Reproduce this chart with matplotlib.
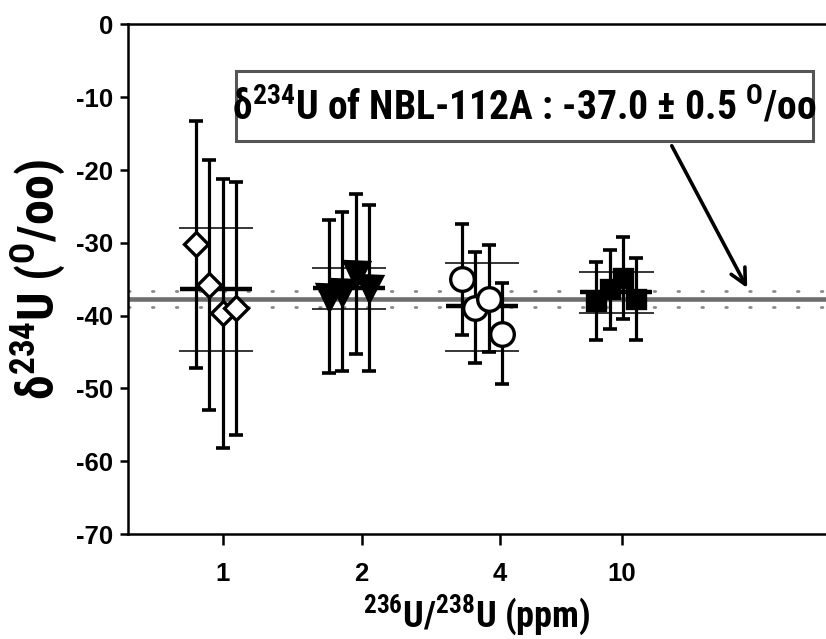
import numpy as np
import matplotlib
matplotlib.use("Agg")
import matplotlib.pyplot as plt
from matplotlib import font_manager
from matplotlib.patches import Rectangle

# 236U/238U spike levels (ppm) and measured delta-234U per run
categories = ["1", "2", "4", "10"]

d234_1ppm = [-30.2, -35.8, -39.7, -39.0]
err_1ppm = [17.0, 17.2, 18.5, 17.4]
d234_2ppm = [-37.4, -36.7, -34.3, -36.2]
err_2ppm = [10.5, 10.9, 11.0, 11.4]
d234_4ppm = [-35.0, -38.9, -37.7, -42.5]
err_4ppm = [7.65, 7.6, 7.35, 6.95]
d234_10ppm = [-38.0, -36.4, -34.8, -37.7]
err_10ppm = [5.35, 5.45, 5.6, 5.6]

# group mean and its +/- band
group_mean = [-36.4, -36.2, -38.7, -36.8]
group_hi = [-28.0, -33.5, -32.7, -34.0]
group_lo = [-44.8, -39.1, -44.8, -39.7]

# certified value line (as drawn) and dotted bounds
ref_value = -37.75
ref_hi = -36.6
ref_lo = -38.85

# narrow bold font if there is one, else plain Liberation Sans
names = {f.name for f in font_manager.fontManager.ttflist}
narrow = None
for cand in ["Liberation Sans Narrow", "Arial Narrow", "Roboto Condensed",
             "Open Sans Condensed", "DejaVu Sans Condensed", "Noto Sans Condensed"]:
    if cand in names:
        narrow = cand
        break
if narrow is None:
    narrow = "Liberation Sans"
    lab_scale = 0.86
else:
    lab_scale = 1.0

plt.rcParams["font.family"] = ["Liberation Sans", "DejaVu Sans"]
plt.rcParams["font.weight"] = "bold"
plt.rcParams["mathtext.default"] = "regular"
plt.rcParams["axes.unicode_minus"] = False

fig = plt.figure(figsize=(8.26, 6.39), dpi=100)
ax = fig.add_axes([0.155, 0.1643, 0.845, 0.7974])

tick_pos = [1.0, 2.0, 3.0, 3.88]
centers = [0.95, 1.91, 2.87, 3.84]
offsets = np.array([-0.145, -0.048, 0.048, 0.145])

ax.axhline(ref_value, color="#6e6e6e", lw=3.3, zorder=1)
for yv in (ref_hi, ref_lo):
    ax.axhline(yv, color="#8a8a8a", lw=2.0, ls=(0, (0.6, 8)),
               dash_capstyle="round", zorder=1)

groups = [
    (d234_1ppm, err_1ppm, "D", 12.5, "white"),
    (d234_2ppm, err_2ppm, "v", 18, "black"),
    (d234_4ppm, err_4ppm, "o", 17, "white"),
    (d234_10ppm, err_10ppm, "s", 13, "black"),
]

for i, (vals, errs, mk, ms, fc) in enumerate(groups):
    xs = centers[i] + offsets
    ax.hlines(group_mean[i], centers[i] - 0.26, centers[i] + 0.26,
              color="black", lw=3.2, zorder=2)
    ax.hlines([group_hi[i], group_lo[i]], centers[i] - 0.27, centers[i] + 0.27,
              color="black", lw=1.1, zorder=2)
    ax.errorbar(xs, vals, yerr=errs, fmt="none", ecolor="black",
                elinewidth=2.3, capsize=5, capthick=2.6, zorder=3)
    ax.plot(xs, vals, ls="none", marker=mk, ms=ms, mfc=fc, mec="black",
            mew=2.4, zorder=4)

ax.set_xlim(0.314, 5.354)
ax.set_ylim(-70, 0)
ax.set_yticks(np.arange(-70, 1, 10))
ax.set_xticks(tick_pos)
ax.set_xticklabels(categories)

for s in ("left", "bottom", "top"):
    ax.spines[s].set_linewidth(1.8)
ax.spines["right"].set_visible(False)
ax.tick_params(axis="y", direction="out", length=6, width=1.8,
               labelsize=18.5, pad=5)
ax.tick_params(axis="x", direction="out", length=8, width=1.8,
               labelsize=18.5, pad=12)

ax.set_ylabel(r"$\delta^{234}$U ($^{O}$/oo)", fontsize=33 * lab_scale + 3,
              fontfamily=narrow, fontweight="bold")
ax.yaxis.set_label_coords(-0.088, 0.5)
ax.set_xlabel(r"$^{236}$U/$^{238}$U (ppm)", fontsize=26 * lab_scale,
              fontfamily=narrow, fontweight="bold", labelpad=5)

# annotation box with arrow to the reference line
ax.add_patch(Rectangle((0.1547, 0.7713), 0.8267, 0.1374, transform=ax.transAxes,
                       fc="white", ec="#555555", lw=2.2, zorder=5))
ax.text(0.568, 0.838, r"$\delta^{234}$U of NBL-112A : -37.0 ± 0.5 $^{O}$/oo",
        transform=ax.transAxes, ha="center", va="center",
        fontsize=28.5 * lab_scale, fontfamily=narrow, fontweight="bold", zorder=6)
ax.annotate("", xy=(4.785, -36.2), xycoords="data",
            xytext=(0.779, 0.762), textcoords="axes fraction",
            arrowprops=dict(arrowstyle="->", lw=2.6, color="black",
                            mutation_scale=28, shrinkA=0, shrinkB=0))

fig.savefig("out.png", dpi=100)
